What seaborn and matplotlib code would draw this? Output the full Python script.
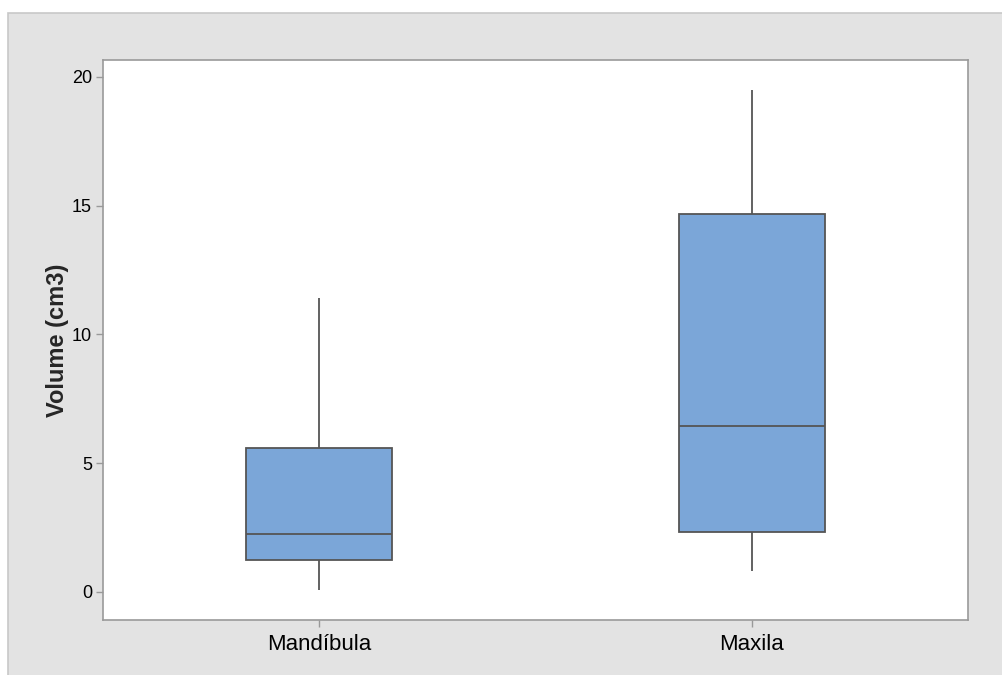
import numpy as np
import pandas as pd
import matplotlib
matplotlib.use('Agg')
import matplotlib.pyplot as plt
import seaborn as sns
from matplotlib.patches import Rectangle

# five-number summaries (min, Q1, median, Q3, max)
categories = ['Mandíbula', 'Maxila']
mandibula = [0.08, 1.23, 2.24, 5.58, 11.42]
maxila = [0.82, 2.32, 6.46, 14.68, 19.5]
y_ticks = [0, 5, 10, 15, 20]

df = pd.DataFrame({
    'Local': [categories[0]] * len(mandibula) + [categories[1]] * len(maxila),
    'Volume': mandibula + maxila,
})

sns.set_style('white')
plt.rcParams['font.family'] = ['Liberation Sans', 'DejaVu Sans']

fig = plt.figure(figsize=(10.02, 6.75), dpi=100, facecolor='white')
# grey panel behind the plot (Minitab look)
fig.patches.append(Rectangle((8 / 1002, -0.01), 1.0, 1 - 13 / 675 + 0.01,
                             transform=fig.transFigure, facecolor='#E3E3E3',
                             edgecolor='#C8C8C8', linewidth=1.2, zorder=-5))

ax = fig.add_axes([103 / 1002, 1 - 620 / 675, 865 / 1002, 560 / 675])
ax.set_zorder(1)
ax.set_facecolor('white')

sns.boxplot(data=df, x='Local', y='Volume', order=categories, ax=ax,
            whis=np.inf, width=0.338, color='#7BA6D8', saturation=1,
            linecolor='#555555', linewidth=1.3, showcaps=False, fill=True)

ax.set_xlim(-0.5, 1.5)
ax.set_ylim(-1.09, 20.66)
ax.set_yticks(y_ticks)
ax.set_yticklabels([str(v) for v in y_ticks], fontsize=13)
ax.set_xticks(range(len(categories)))
ax.set_xticklabels(categories, fontsize=16)
ax.tick_params(axis='both', which='both', length=5, width=1, color='#999999',
               direction='out', bottom=True, left=True, labelcolor='black')
ax.tick_params(axis='y', pad=3)
ax.tick_params(axis='x', pad=5)

for s in ax.spines.values():
    s.set_visible(True)
    s.set_color('#9A9A9A')
    s.set_linewidth(1.2)

ax.set_xlabel('')
ax.set_ylabel('Volume (cm3)', fontsize=17, fontweight='bold', labelpad=2)

plt.savefig('out.png', dpi=100, facecolor=fig.get_facecolor())
